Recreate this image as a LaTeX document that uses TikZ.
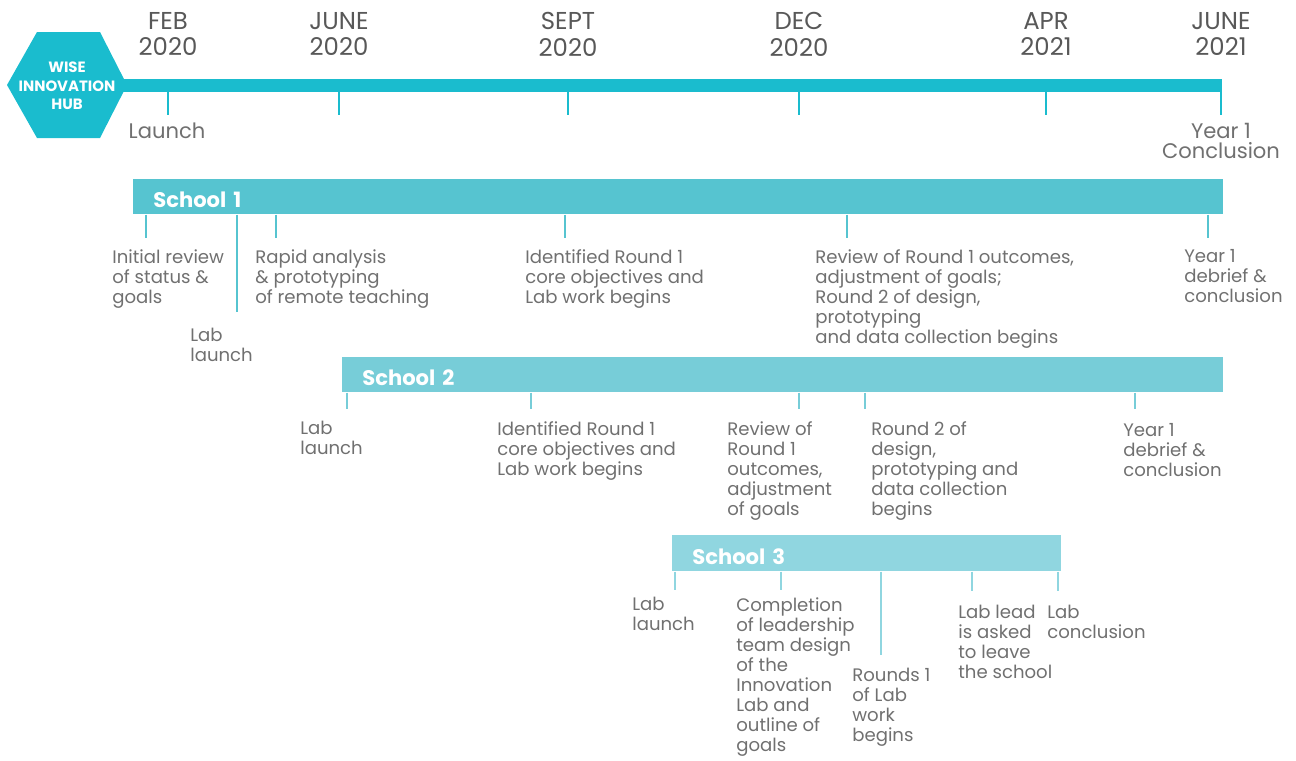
\documentclass[tikz,border=0pt]{standalone}
\usepackage{fontspec}
\setmainfont{Poppins}
\usetikzlibrary{positioning}
\definecolor{hubblue}{RGB}{26,188,206}
\definecolor{schoolA}{RGB}{86,196,208}
\definecolor{schoolB}{RGB}{119,205,216}
\definecolor{schoolC}{RGB}{144,214,224}
\definecolor{txtgray}{RGB}{112,112,112}
\definecolor{monthgray}{RGB}{88,88,88}

\begin{document}
\begin{tikzpicture}[x=0.02cm,y=-0.02cm,
  month/.style={align=center,inner sep=0,text=monthgray,font=\fontsize{13.9}{15.3}\selectfont},
  note/.style={anchor=north west,align=left,inner sep=0,text=txtgray,font=\fontsize{10.3}{11.4}\selectfont},
  bar/.style={anchor=north west,inner xsep=0.4cm,inner ysep=0,minimum height=0.7cm,align=left,text height=12.3pt,text depth=0pt,text=white,font=\fontsize{12}{13}\selectfont\bfseries},
  tick/.style={line width=0.05cm}]
\useasboundingbox (0,0) rectangle (1296,761);

% hub and main timeline
\fill[hubblue] (7,85) -- (37,32) -- (100,32) -- (127,85) -- (100,138) -- (37,138) -- cycle;
\node[align=center,inner sep=0,text=white,font=\fontsize{8.5}{10.6}\selectfont\bfseries] (hub) at (67,86) {WISE\\INNOVATION\\HUB};
\coordinate (lstart) at (122,85);
\coordinate (lend) at (1222,85);
\draw[hubblue,line width=0.26cm] (lstart) -- (lend);
\foreach \n/\x/\m in {1/168/FEB\\2020, 2/339/JUNE\\2020, 3/568/SEPT\\2020, 4/799/DEC\\2020, 5/1046/APR\\2021, 6/1221/JUNE\\2021}{
  \node[month] (m\n) at (\x,34) {\m};
  \coordinate (k\n) at (\x,115);
  \draw[tick,hubblue] (k\n |- lend) -- (k\n);
}
\node[note,anchor=center,align=center,font=\fontsize{12}{11.4}\selectfont] (launch) at (167,131) {Launch};
\node[note,anchor=center,align=center,font=\fontsize{12}{11.4}\selectfont] (yconc) at (1221,141) {Year 1\\Conclusion};

% School 1
\node[bar,fill=schoolA,text width=21.0cm] (s1) at (133,179) {School 1};
\node[note] (a1) at (112,249) {Initial review\\of status \&\\goals};
\node[note] (a2) at (190,328) {Lab\\launch};
\node[note] (a3) at (255,249) {Rapid analysis\\\& prototyping\\of remote teaching};
\node[note] (a4) at (525,249) {Identified Round 1\\core objectives and\\Lab work begins};
\node[note] (a5) at (815,249) {Review of Round 1 outcomes,\\adjustment of goals;\\Round 2 of design,\\prototyping\\and data collection begins};
\node[note] (a6) at (1184,249) {Year 1\\debrief \&\\conclusion};
\foreach \n/\x/\y in {1/146/238, 2/237/312, 3/276/238, 4/565/238, 5/847/238, 6/1208/238}{
  \coordinate (ta\n) at (\x,\y);
  \draw[tick,schoolA] (ta\n |- s1.south) -- (ta\n);
}

% School 2
\node[bar,fill=schoolB,text width=16.82cm] (s2) at (342,357) {School 2};
\node[note] (b1) at (300,421) {Lab\\launch};
\node[note] (b2) at (497,421) {Identified Round 1\\core objectives and\\Lab work begins};
\node[note] (b3) at (727,421) {Review of\\Round 1\\outcomes,\\adjustment\\of goals};
\node[note] (b4) at (871,421) {Round 2 of\\design,\\prototyping and\\data collection\\begins};
\node[note] (b5) at (1123,423) {Year 1\\debrief \&\\conclusion};
\foreach \n/\x in {1/347, 2/531, 3/799, 4/865, 5/1135}{
  \coordinate (tb\n) at (\x,409);
  \draw[tick,schoolB] (tb\n |- s2.south) -- (tb\n);
}

% School 3
\node[bar,fill=schoolC,text width=6.98cm,minimum height=0.72cm] (s3) at (672,535) {School 3};
\node[note] (c1) at (632,597) {Lab\\launch};
\node[note] (c2) at (736,597) {Completion\\of leadership\\team design\\of the\\Innovation\\Lab and\\outline of\\goals};
\node[note] (c3) at (852,668) {Rounds 1\\of Lab\\work\\begins};
\node[note] (c4) at (958,605) {Lab lead\\is asked\\to leave\\the school};
\node[note] (c5) at (1047,605) {Lab\\conclusion};
\foreach \n/\x/\y in {1/675/590, 2/781/590, 3/881/655, 4/972/591, 5/1058/591}{
  \coordinate (tc\n) at (\x,\y);
  \draw[tick,schoolC] (tc\n |- s3.south) -- (tc\n);
}
\end{tikzpicture}
\end{document}
